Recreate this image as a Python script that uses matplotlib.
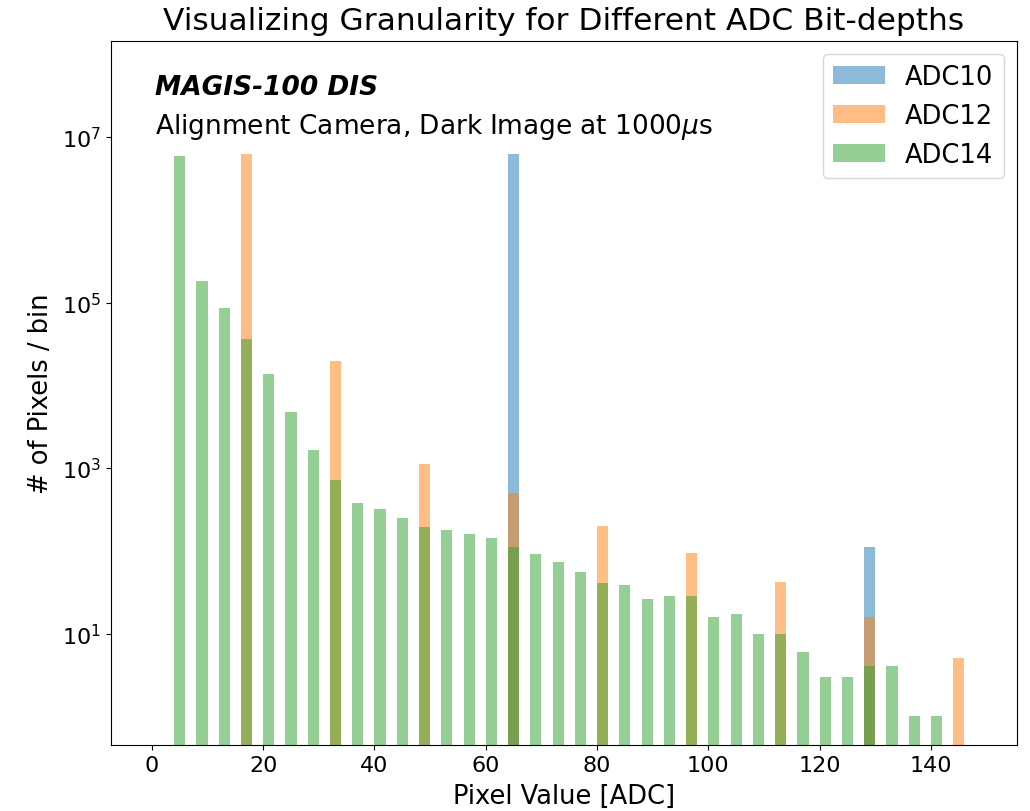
import numpy as np
import matplotlib
matplotlib.use("Agg")
import matplotlib.pyplot as plt

# bin left edges (ADC units) and counts per bin
adc10_x = [64, 128]
adc10_n = [6.2e6, 112]

adc12_x = [16, 32, 48, 64, 80, 96, 112, 128, 144]
adc12_n = [6.2e6, 1.97e4, 1125, 497, 200, 93, 42, 16, 5]

adc14_x = list(range(4, 144, 4))
adc14_n = [5.9e6, 1.82e5, 8.7e4, 3.6e4, 1.36e4, 4.7e3, 1.66e3, 714,
           374, 316, 250, 193, 176, 159, 141, 110, 91, 74, 55,
           40.8, 38.5, 26, 28.7, 28.7, 16, 17, 10, 10, 6, 3, 3, 4, 4, 1, 1]

bin_w = 2

fig = plt.figure(figsize=(10.3, 8.12), dpi=100)
ax = fig.add_axes([0.1075, 0.0813, 0.8795, 0.8667])

ax.bar(adc10_x, adc10_n, width=bin_w, align='edge', alpha=0.5,
       color='tab:blue', label='ADC10')
ax.bar(adc12_x, adc12_n, width=bin_w, align='edge', alpha=0.5,
       color='tab:orange', label='ADC12')
ax.bar(adc14_x, adc14_n, width=bin_w, align='edge', alpha=0.5,
       color='tab:green', label='ADC14')

ax.set_yscale('log')
ax.set_xlim(-7.4, 155.4)
ax.set_ylim(0.45, 1.44e8)
ax.set_yticks([1e1, 1e3, 1e5, 1e7])
ax.minorticks_off()
ax.tick_params(labelsize=16)

ax.set_title('Visualizing Granularity for Different ADC Bit-depths',
             fontsize=22.5, pad=9)
ax.set_xlabel('Pixel Value [ADC]', fontsize=18.5, labelpad=6)
ax.set_ylabel('# of Pixels / bin', fontsize=18.5, labelpad=6)

ax.text(0.049, 0.935, 'MAGIS-100 DIS', transform=ax.transAxes,
        fontsize=19, fontweight='bold', fontstyle='italic', va='center')
ax.text(0.049, 0.88, r'Alignment Camera, Dark Image at 1000$\mu$s',
        transform=ax.transAxes, fontsize=19, va='center')

ax.legend(loc='upper right', fontsize=18.5)

fig.savefig('out.png', dpi=100)
